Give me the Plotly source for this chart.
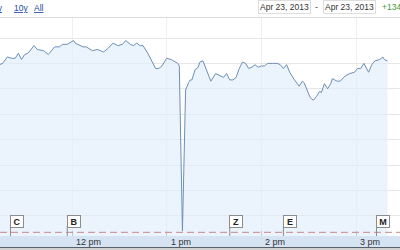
import plotly.graph_objects as go

DAY = "2013-04-23 "

# ---- data ----
times = ["11:14", "11:16", "11:19", "11:22", "11:24", "11:26", "11:28", "11:30", "11:32", "11:36",
         "11:38", "11:42", "11:45", "11:49", "11:52", "11:54", "11:57", "12:01", "12:02", "12:05",
         "12:07", "12:09", "12:13", "12:16", "12:18", "12:20", "12:23", "12:26", "12:29", "12:32",
         "12:34", "12:37", "12:39", "12:41", "12:43", "12:45", "12:48", "12:51", "12:53", "12:55",
         "12:57", "13:00", "13:03", "13:07", "13:08", "13:10", "13:12", "13:14", "13:15", "13:16",
         "13:18", "13:20", "13:21", "13:23", "13:26", "13:28", "13:31", "13:34", "13:36", "13:38",
         "13:40", "13:42", "13:44", "13:46", "13:48", "13:50", "13:52", "13:54", "13:56", "13:58",
         "14:00", "14:02", "14:04", "14:07", "14:10", "14:12", "14:14", "14:16", "14:18", "14:21",
         "14:24", "14:26", "14:27", "14:29", "14:31", "14:33", "14:35", "14:37", "14:38", "14:40",
         "14:42", "14:44", "14:45", "14:48", "14:50", "14:53", "14:56", "14:59", "15:01", "15:03",
         "15:05", "15:08", "15:10", "15:12", "15:15", "15:17", "15:18", "15:20"]
values = [14679, 14680, 14685, 14684, 14684, 14688, 14683, 14687, 14688, 14694,
          14691, 14690, 14687, 14693, 14693, 14695, 14695, 14698, 14696, 14694,
          14693, 14693, 14690, 14691, 14690, 14689, 14692, 14696, 14694, 14695,
          14698, 14695, 14694, 14696, 14694, 14694, 14688, 14680, 14676, 14676,
          14678, 14684, 14683, 14680, 14678, 14548, 14659, 14665, 14667, 14667,
          14675, 14677, 14681, 14682, 14673, 14666, 14672, 14670, 14669, 14672,
          14667, 14667, 14669, 14676, 14681, 14680, 14676, 14677, 14679, 14677,
          14678, 14678, 14680, 14680, 14680, 14679, 14676, 14679, 14673, 14667,
          14662, 14666, 14665, 14659, 14653, 14651, 14654, 14658, 14657, 14664,
          14660, 14664, 14668, 14666, 14666, 14670, 14672, 14673, 14676, 14676,
          14680, 14673, 14679, 14682, 14683, 14685, 14683, 14682]

flag_labels = ["C", "B", "Z", "E", "M"]
flag_times = ["11:21", "11:57", "13:40", "14:14", "15:13"]

tick_times = ["11:00", "12:00", "13:00", "14:00", "15:00"]
tick_labels = ["11 am", "12 pm", "1 pm", "2 pm", "3 pm"]

ref_value = 14547
range_links = ["5y", "10y", "All"]
date_from = "Apr 23, 2013"
date_to = "Apr 23, 2013"
change_text = "+134"

W, H = 400, 250
def py(px):  # pixel-from-top -> paper y
    return 1 - px / H

FONT = "Arial, Liberation Sans, sans-serif"

fig = go.Figure()
fig.add_trace(go.Scatter(
    x=[DAY + t for t in times], y=values, mode="lines",
    line=dict(color="#6d8fb5", width=1),
    fill="tozeroy", fillcolor="rgba(225,238,252,0.65)",
    hoverinfo="skip", showlegend=False))

shapes = []
annotations = []

# dashed reference line
shapes.append(dict(type="line", xref="paper", yref="y", x0=0, x1=1, y0=ref_value, y1=ref_value,
                   line=dict(color="#c48a8a", width=1, dash="7px,4px"), layer="above"))
# bottom axis band
shapes.append(dict(type="rect", xref="paper", yref="paper", x0=0, x1=1, y0=py(247), y1=py(236),
                   fillcolor="#d5e3f3", line=dict(width=0), layer="above"))
shapes.append(dict(type="rect", xref="paper", yref="paper", x0=0, x1=1, y0=py(248.2), y1=py(247),
                   fillcolor="#5a6068", line=dict(width=0), layer="above"))
shapes.append(dict(type="rect", xref="paper", yref="paper", x0=0, x1=1, y0=0, y1=py(248.2),
                   fillcolor="#d0d0d0", line=dict(width=0), layer="above"))
# top separator
shapes.append(dict(type="line", xref="paper", yref="paper", x0=0, x1=1, y0=py(17.5), y1=py(17.5),
                   line=dict(color="#dcdcdc", width=1)))

# tick labels in the band
for t, lab in zip(tick_times, tick_labels):
    annotations.append(dict(x=DAY + t, y=py(242), xref="x", yref="paper", text=lab,
                            showarrow=False, xanchor="left", yanchor="middle", xshift=2,
                            font=dict(family=FONT, size=9, color="#333333")))

# flags
for lab, t in zip(flag_labels, flag_times):
    shapes.append(dict(type="line", xref="x", yref="paper", x0=DAY + t, x1=DAY + t,
                       y0=py(236), y1=py(226), line=dict(color="#8a8a8a", width=1), layer="above"))
    annotations.append(dict(x=DAY + t, y=py(221), xref="x", yref="paper", text="<b>%s</b>" % lab,
                            showarrow=False, xanchor="left", yanchor="middle", xshift=-0.5,
                            width=10, height=9, borderpad=1, borderwidth=1,
                            bordercolor="#8c8c8c", bgcolor="#ffffff",
                            font=dict(family=FONT, size=9, color="#222222")))

# top toolbar
link_x = [5, 12, 32]
for txt, x in zip(range_links, link_x):
    annotations.append(dict(x=x / W, y=py(7.5), xref="paper", yref="paper", text="<u>%s</u>" % txt,
                            showarrow=False, xanchor="right" if txt == "5y" else "left",
                            yanchor="middle", font=dict(family=FONT, size=8.5, color="#2347a3")))
annotations.append(dict(x=258 / W, y=py(7), xref="paper", yref="paper", text=date_from,
                        showarrow=False, xanchor="left", yanchor="middle", borderpad=1,
                        bordercolor="#dddddd", borderwidth=1, bgcolor="#ffffff",
                        font=dict(family=FONT, size=8.5, color="#333333")))
annotations.append(dict(x=316 / W, y=py(7), xref="paper", yref="paper", text="-",
                        showarrow=False, xanchor="center", yanchor="middle",
                        font=dict(family=FONT, size=8.5, color="#333333")))
annotations.append(dict(x=323 / W, y=py(7), xref="paper", yref="paper", text=date_to,
                        showarrow=False, xanchor="left", yanchor="middle", borderpad=1,
                        bordercolor="#dddddd", borderwidth=1, bgcolor="#ffffff",
                        font=dict(family=FONT, size=8.5, color="#333333")))
annotations.append(dict(x=380 / W, y=py(7), xref="paper", yref="paper", text=change_text,
                        showarrow=False, xanchor="left", yanchor="middle",
                        font=dict(family=FONT, size=8.5, color="#3c9a3c")))

fig.update_layout(
    width=W, height=H, margin=dict(l=0, r=0, t=0, b=0),
    paper_bgcolor="#ffffff", plot_bgcolor="#ffffff",
    shapes=shapes, annotations=annotations, showlegend=False, hovermode=False,
    xaxis=dict(type="date", range=[DAY + "11:14:22", DAY + "15:27:53"],
               tickvals=[DAY + t for t in tick_times], showticklabels=False,
               ticks="inside", ticklen=5, tickcolor="#c8c8c8",
               showgrid=True, gridcolor="#efefef", zeroline=False, showline=False,
               domain=[0, 1]),
    yaxis=dict(range=[14544.1, 14715.75], domain=[py(236), py(18)],
               dtick=20, tick0=14700, showticklabels=False, ticks="",
               showgrid=True, gridcolor="#e6e6e6", zeroline=False, showline=False),
)

fig.write_html("out.html", config={"displayModeBar": False})
